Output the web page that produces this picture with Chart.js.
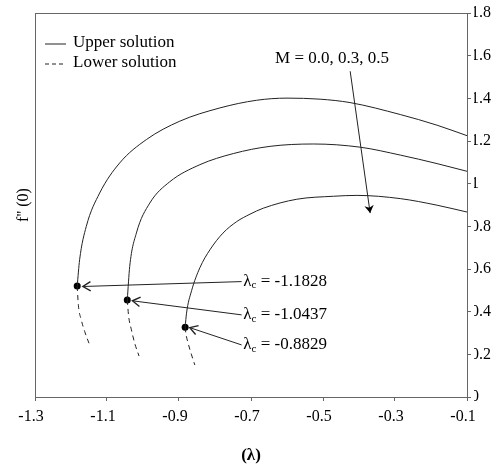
<!DOCTYPE html>
<html>
<head>
<meta charset="utf-8">
<script src="https://cdn.jsdelivr.net/npm/chart.js@4.4.0/dist/chart.umd.min.js"></script>
<style>
  html, body { margin: 0; padding: 0; background: #fff; }
  #wrap { width: 503px; height: 467px; }
</style>
</head>
<body>
<div id="wrap"><canvas id="chart" width="503" height="467"></canvas></div>
<script>
const serif = '"Liberation Serif", "Times New Roman", serif';

// Magnetic parameter for each curve
const mValues = ['0.0', '0.3', '0.5'];

// Critical points (lambda_c, f''(0))
const criticalX = [-1.1828, -1.0437, -0.8829];
const criticalY = [0.52, 0.455, 0.327];

// Upper branches: from the critical point to the right edge
const upperX0 = [-1.1828, -1.1761, -1.1575, -1.1204, -1.0648, -0.9904, -0.8977, -0.7864, -0.6842, -0.600, -0.508, -0.4245, -0.2853, -0.1831, -0.100];
const upperY0 = [0.520, 0.643, 0.800, 0.956, 1.097, 1.207, 1.293, 1.355, 1.391, 1.401, 1.396, 1.380, 1.324, 1.274, 1.225];

const upperX3 = [-1.0437, -1.0369, -1.0183, -0.9812, -0.9256, -0.8420, -0.7493, -0.6469, -0.5266, -0.3968, -0.2853, -0.1831, -0.100];
const upperY3 = [0.455, 0.612, 0.769, 0.909, 1.009, 1.089, 1.141, 1.175, 1.186, 1.171, 1.134, 1.094, 1.058];

const upperX5 = [-0.8829, -0.8791, -0.8651, -0.8420, -0.8141, -0.7780, -0.7399, -0.7028, -0.6658, -0.5728, -0.4709, -0.4058, -0.2855, -0.1831, -0.100];
const upperY5 = [0.327, 0.393, 0.498, 0.606, 0.690, 0.768, 0.822, 0.857, 0.885, 0.927, 0.941, 0.945, 0.930, 0.899, 0.867];

// Lower branches (dashed): from the critical point downwards
const lowerX0 = [-1.1828, -1.1795, -1.1715, -1.162, -1.150];
const lowerY0 = [0.520, 0.430, 0.362, 0.307, 0.252];

const lowerX3 = [-1.0437, -1.0400, -1.0322, -1.023, -1.011];
const lowerY3 = [0.455, 0.380, 0.315, 0.252, 0.192];

const lowerX5 = [-0.8829, -0.881, -0.8746, -0.8651, -0.856];
const lowerY5 = [0.327, 0.299, 0.252, 0.197, 0.150];

const xTicks = [-1.3, -0.1, 0.2];   // min, max, step
const yTicks = [0, 1.8, 0.2];

// Annotation anchors in data units
const labelX = -0.7215;
const labelY = [0.541, 0.385, 0.244];
const arrowStartX = -0.726;
const arrowTipX = [-1.167, -1.0294, -0.870];
const arrowTipY = [0.518, 0.451, 0.325];
const mLabelPos = [-0.633, 1.587];
const mArrow = [-0.4245, 1.527, -0.369, 0.862];

function toPoints(xs, ys) {
    return xs.map((x, i) => ({ x: x, y: ys[i] }));
}

function curveDataset(label, xs, ys, dashed) {
    return {
        label: label,
        data: toPoints(xs, ys),
        showLine: true,
        borderColor: '#222',
        borderWidth: 1,
        borderDash: dashed ? [5, 4] : [],
        pointRadius: 0,
        cubicInterpolationMode: 'monotone',
        fill: false
    };
}

const datasets = [
    curveDataset('Upper M = 0.0', upperX0, upperY0, false),
    curveDataset('Upper M = 0.3', upperX3, upperY3, false),
    curveDataset('Upper M = 0.5', upperX5, upperY5, false),
    curveDataset('Lower M = 0.0', lowerX0, lowerY0, true),
    curveDataset('Lower M = 0.3', lowerX3, lowerY3, true),
    curveDataset('Lower M = 0.5', lowerX5, lowerY5, true),
    {
        label: 'critical',
        data: toPoints(criticalX, criticalY),
        showLine: false,
        pointRadius: 3.5,
        backgroundColor: '#000',
        borderColor: '#000',
        borderWidth: 0
    }
];

function drawArrow(ctx, x1, y1, x2, y2, head, filled) {
    ctx.beginPath();
    ctx.moveTo(x1, y1);
    ctx.lineTo(x2, y2);
    ctx.stroke();
    const ang = Math.atan2(y2 - y1, x2 - x1);
    const spread = 0.55;
    ctx.beginPath();
    ctx.moveTo(x2 - head * Math.cos(ang - spread), y2 - head * Math.sin(ang - spread));
    ctx.lineTo(x2, y2);
    ctx.lineTo(x2 - head * Math.cos(ang + spread), y2 - head * Math.sin(ang + spread));
    if (filled) {
        ctx.lineTo(x2 - head * 0.6 * Math.cos(ang), y2 - head * 0.6 * Math.sin(ang));
        ctx.closePath();
        ctx.fill();
    } else {
        ctx.lineWidth = 1.4;
        ctx.stroke();
    }
}

const overlay = {
    id: 'overlay',
    afterDraw(chart) {
        const ctx = chart.ctx;
        const a = chart.chartArea;
        const xs = chart.scales.x;
        const ys = chart.scales.y;
        ctx.save();

        // top frame line
        ctx.strokeStyle = '#666';
        ctx.lineWidth = 1;
        ctx.beginPath();
        ctx.moveTo(a.left, a.top + 0.5);
        ctx.lineTo(a.right + 1, a.top + 0.5);
        ctx.stroke();

        // the right-hand tick labels are cut off at their left edge in the original
        ctx.fillStyle = '#fff';
        ctx.fillRect(a.right + 4, a.top - 12, 3, a.bottom - a.top + 24);

        ctx.fillStyle = '#000';
        ctx.strokeStyle = '#000';

        // legend
        ctx.font = '17px ' + serif;
        ctx.textBaseline = 'middle';
        ctx.textAlign = 'left';
        const lx = a.left + 10, ly = a.top + 30;
        ctx.lineWidth = 1;
        ctx.strokeStyle = '#222';
        ctx.beginPath();
        ctx.moveTo(lx, ly + 1);
        ctx.lineTo(lx + 21, ly + 1);
        ctx.stroke();
        ctx.setLineDash([4, 3]);
        ctx.beginPath();
        ctx.moveTo(lx, ly + 21);
        ctx.lineTo(lx + 21, ly + 21);
        ctx.stroke();
        ctx.setLineDash([]);
        ctx.fillText('Upper solution', lx + 28, ly);
        ctx.fillText('Lower solution', lx + 28, ly + 20);

        // M label and arrow
        ctx.fillText('M = ' + mValues.join(', '), xs.getPixelForValue(mLabelPos[0]), ys.getPixelForValue(mLabelPos[1]));
        ctx.strokeStyle = '#222';
        ctx.lineWidth = 1;
        drawArrow(ctx,
            xs.getPixelForValue(mArrow[0]), ys.getPixelForValue(mArrow[1]),
            xs.getPixelForValue(mArrow[2]), ys.getPixelForValue(mArrow[3]), 9, true);

        // critical point labels and arrows
        criticalX.forEach((cx, i) => {
            const px = xs.getPixelForValue(labelX);
            const py = ys.getPixelForValue(labelY[i]);
            ctx.lineWidth = 1;
            ctx.strokeStyle = '#222';
            drawArrow(ctx, xs.getPixelForValue(arrowStartX), py,
                xs.getPixelForValue(arrowTipX[i]), ys.getPixelForValue(arrowTipY[i]), 9, false);
            ctx.font = '17px ' + serif;
            ctx.fillText('λ', px, py);
            const w1 = ctx.measureText('λ').width;
            ctx.font = '11px ' + serif;
            ctx.fillText('c', px + w1, py + 4);
            const w2 = ctx.measureText('c').width;
            ctx.font = '17px ' + serif;
            ctx.fillText(' = ' + cx.toFixed(4), px + w1 + w2, py);
        });

        ctx.restore();
    }
};

new Chart(document.getElementById('chart'), {
    type: 'scatter',
    data: { datasets: datasets },
    plugins: [overlay],
    options: {
        responsive: false,
        animation: false,
        layout: { padding: { top: 13, left: 0, right: 0, bottom: 0 } },
        plugins: {
            legend: { display: false },
            tooltip: { enabled: false }
        },
        scales: {
            x: {
                type: 'linear',
                position: 'bottom',
                min: xTicks[0],
                max: xTicks[1],
                afterFit: scale => { scale.height = 70; },
                ticks: {
                    stepSize: xTicks[2],
                    color: '#000',
                    font: { family: serif, size: 16 },
                    padding: 6,
                    labelOffset: -4,
                    maxRotation: 0,
                    callback: v => v.toFixed(1)
                },
                grid: { drawOnChartArea: false, tickLength: 4, color: '#666' },
                border: { color: '#666' },
                title: {
                    display: true,
                    text: '(λ)',
                    color: '#000',
                    font: { family: serif, size: 17, weight: 'bold' },
                    padding: { top: 0, bottom: 1 }
                }
            },
            y: {
                type: 'linear',
                position: 'right',
                min: yTicks[0],
                max: yTicks[1],
                afterFit: scale => { scale.width = 36; },
                ticks: {
                    stepSize: yTicks[2],
                    color: '#000',
                    font: { family: serif, size: 16 },
                    padding: 0,
                    callback: v => Number(v.toFixed(1)).toString()
                },
                grid: { drawOnChartArea: false, tickLength: 4, color: '#666' },
                border: { color: '#666' }
            },
            yLeft: {
                type: 'linear',
                position: 'left',
                min: yTicks[0],
                max: yTicks[1],
                afterFit: scale => { scale.width = 35; },
                ticks: { display: false },
                grid: { display: false, drawTicks: false },
                border: { display: true, color: '#666' },
                title: {
                    display: true,
                    text: "f'' (0)",
                    color: '#000',
                    font: { family: serif, size: 16 },
                    padding: { top: 14, bottom: 0 }
                }
            }
        }
    }
});
</script>
</body>
</html>
